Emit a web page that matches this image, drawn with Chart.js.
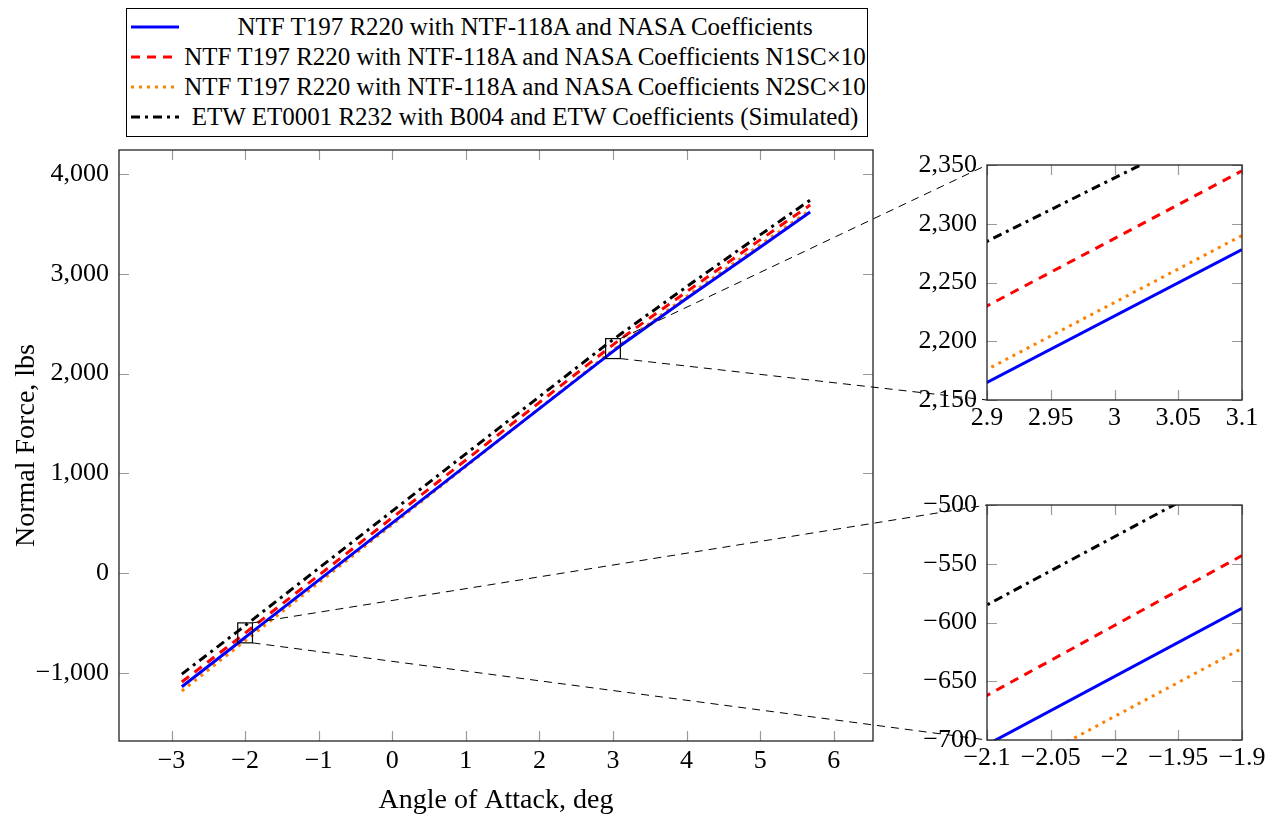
<!DOCTYPE html>
<html lang="en">
<head>
<meta charset="UTF-8" />
<title>Normal Force vs Angle of Attack</title>
<style>
  body { margin: 0; background: #fff; }
  .page { position: relative; width: 1280px; height: 817px; overflow: hidden; font-family: "Liberation Serif", "DejaVu Serif", serif; }
  .page canvas { position: absolute; left: 0; top: 0; }
  .legend { position: absolute; left: 126px; top: 8px; width: 740px; height: 127px; border: 1px solid #000; background: #fff; }
  .legend .row { position: absolute; left: 0; width: 100%; height: 30px; }
  .legend svg { position: absolute; left: 4px; top: 10px; }
  .legend span { position: absolute; left: 56px; width: 684px; top: 0; line-height: 30px; text-align: center; font-size: 25px; white-space: nowrap; color: #000; }
</style>
<script src="https://cdn.jsdelivr.net/npm/chart.js"></script>
</head>
<body>
<div class="page">
  <canvas id="main" width="1280" height="817"></canvas>
  <canvas id="links" width="1280" height="817"></canvas>
  <canvas id="zoomHigh" width="1280" height="817"></canvas>
  <canvas id="zoomLow" width="1280" height="817"></canvas>
  <div class="legend" id="legend"></div>
</div>
<script>
// angle of attack, deg (shared by every series)
const angle = [-2.86, -2.1, -1.9, 2.9, 3.1, 4.0, 5.0, 5.68];

// normal force, lbs
const ntfNasa   = [-1140, -704, -588, 2165, 2278, 2752, 3265, 3619];
const ntfN1SC   = [-1093, -662, -543, 2230, 2345, 2820, 3340, 3689];
const ntfN2SC   = [-1183, -738, -622, 2176, 2290, 2772, 3290, 3639];
const etwSim    = [-1013, -585, -469, 2285, 2393, 2870, 3390, 3739];

const seriesNames = [
  'NTF T197 R220 with NTF-118A and NASA Coefficients',
  'NTF T197 R220 with NTF-118A and NASA Coefficients N1SC\u00d710',
  'NTF T197 R220 with NTF-118A and NASA Coefficients N2SC\u00d710',
  'ETW ET0001 R232 with B004 and ETW Coefficients (Simulated)'
];
const seriesValues = [ntfNasa, ntfN1SC, ntfN2SC, etwSim];
const seriesColors = ['#0000ff', '#ff0000', '#ff8000', '#000000'];
const seriesDash = [[], [9, 7], [3, 5], [9, 5, 3, 5]];

// tick labels
const mainXTicks = [-3, -2, -1, 0, 1, 2, 3, 4, 5, 6];
const mainYTicks = [-1000, 0, 1000, 2000, 3000, 4000];
const highXTicks = [2.9, 2.95, 3, 3.05, 3.1];
const highYTicks = [2150, 2200, 2250, 2300, 2350];
const lowXTicks = [-2.1, -2.05, -2, -1.95, -1.9];
const lowYTicks = [-700, -650, -600, -550, -500];

const W = 1280, H = 817;
const FONT = '"Liberation Serif", "DejaVu Serif", serif';

function fmt(v) {
  const s = Math.abs(v).toLocaleString('en-US', { maximumFractionDigits: 2 });
  return (v < 0 ? '\u2212' : '') + s;
}

function makeDatasets() {
  return seriesValues.map((vals, i) => ({
    label: seriesNames[i],
    data: angle.map((a, k) => ({ x: a, y: vals[k] })),
    borderColor: seriesColors[i],
    borderWidth: 3,
    borderDash: seriesDash[i],
    pointRadius: 0,
    fill: false
  }));
}

// frame + inward ticks on all four sides, pgfplots style
const axisFrame = {
  id: 'axisFrame',
  afterDatasetsDraw(chart) {
    const { ctx, chartArea: a, scales: { x, y } } = chart;
    const L = 10;
    ctx.save();
    ctx.strokeStyle = '#9a9a9a';
    ctx.lineWidth = 1.2;
    ctx.beginPath();
    x.ticks.forEach(t => {
      const p = Math.round(x.getPixelForValue(t.value)) + 0.5;
      ctx.moveTo(p, a.bottom); ctx.lineTo(p, a.bottom - L);
      ctx.moveTo(p, a.top); ctx.lineTo(p, a.top + L);
    });
    y.ticks.forEach(t => {
      const p = Math.round(y.getPixelForValue(t.value)) + 0.5;
      ctx.moveTo(a.left, p); ctx.lineTo(a.left + L, p);
      ctx.moveTo(a.right, p); ctx.lineTo(a.right - L, p);
    });
    ctx.stroke();
    ctx.strokeStyle = '#222';
    ctx.lineWidth = 1.3;
    ctx.strokeRect(a.left, a.top, a.right - a.left, a.bottom - a.top);
    ctx.restore();
  }
};

// small boxes in the main plot marking the zoomed regions
const spyBoxes = {
  id: 'spyBoxes',
  afterDatasetsDraw(chart) {
    const { ctx, scales: { x, y } } = chart;
    ctx.save();
    ctx.strokeStyle = '#000';
    ctx.lineWidth = 1.2;
    [[highXTicks, highYTicks], [lowXTicks, lowYTicks]].forEach(([xt, yt]) => {
      const x0 = x.getPixelForValue(xt[0]), x1 = x.getPixelForValue(xt[xt.length - 1]);
      const y0 = y.getPixelForValue(yt[0]), y1 = y.getPixelForValue(yt[yt.length - 1]);
      ctx.strokeRect(x0, y1, x1 - x0, y0 - y1);
    });
    ctx.restore();
  }
};

function buildChart(id, box, xRange, yRange, xTicks, yTicks, o) {
  const tickFont = { family: FONT, size: 26 };
  const titleFont = { family: FONT, size: 28 };
  return new Chart(document.getElementById(id), {
    type: 'line',
    data: { datasets: makeDatasets() },
    options: {
      responsive: false,
      animation: false,
      events: [],
      layout: { padding: { left: box.left - o.yWidth, top: box.top, right: W - box.right, bottom: H - box.bottom - o.xHeight } },
      plugins: { legend: { display: false }, tooltip: { enabled: false } },
      elements: { line: { tension: 0, borderCapStyle: 'butt', borderJoinStyle: 'miter' } },
      scales: {
        x: {
          type: 'linear', min: xRange[0], max: xRange[1],
          grid: { display: false, drawTicks: false }, border: { display: false },
          afterBuildTicks: s => { s.ticks = xTicks.map(v => ({ value: v })); },
          afterFit: s => { s.height = o.xHeight; },
          ticks: { autoSkip: false, maxRotation: 0, minRotation: 0, padding: o.xPad, color: '#000', font: tickFont, callback: v => fmt(v) },
          title: o.xTitle ? { display: true, text: o.xTitle, color: '#000', font: titleFont, padding: { top: 0, bottom: 0 } } : { display: false }
        },
        y: {
          type: 'linear', min: yRange[0], max: yRange[1],
          grid: { display: false, drawTicks: false }, border: { display: false },
          afterBuildTicks: s => { s.ticks = yTicks.map(v => ({ value: v })); },
          afterFit: s => { s.width = o.yWidth; },
          ticks: { autoSkip: false, padding: o.yPad, color: '#000', font: tickFont, callback: v => fmt(v) },
          title: o.yTitle ? { display: true, text: o.yTitle, color: '#000', font: titleFont, padding: { top: 10, bottom: 0 } } : { display: false }
        }
      }
    },
    plugins: [axisFrame].concat(o.plugins || [])
  });
}

const main = buildChart('main', { left: 119, top: 150, right: 873, bottom: 741 },
  [-3.714, 6.534], [-1684, 4241], mainXTicks, mainYTicks,
  { yWidth: 119, xHeight: 76, xPad: 5, yPad: 10, xTitle: 'Angle of Attack, deg', yTitle: 'Normal Force, lbs', plugins: [spyBoxes] });

const zoomHigh = buildChart('zoomHigh', { left: 987, top: 165, right: 1242, bottom: 400 },
  [highXTicks[0], highXTicks[highXTicks.length - 1]], [highYTicks[0], highYTicks[highYTicks.length - 1]],
  highXTicks, highYTicks, { yWidth: 110, xHeight: 44, xPad: 3, yPad: 10 });

const zoomLow = buildChart('zoomLow', { left: 987, top: 505, right: 1242, bottom: 740 },
  [lowXTicks[0], lowXTicks[lowXTicks.length - 1]], [lowYTicks[0], lowYTicks[lowYTicks.length - 1]],
  lowXTicks, lowYTicks, { yWidth: 110, xHeight: 44, xPad: 3, yPad: 10 });

// dashed connector lines from each marked box to its magnified view
(function drawLinks() {
  const ctx = document.getElementById('links').getContext('2d');
  const x = main.scales.x, y = main.scales.y;
  ctx.save();
  ctx.strokeStyle = '#000';
  ctx.lineWidth = 1;
  ctx.setLineDash([8, 6]);
  [[highXTicks, highYTicks, zoomHigh], [lowXTicks, lowYTicks, zoomLow]].forEach(([xt, yt, inset]) => {
    const bx = x.getPixelForValue(xt[xt.length - 1]);
    const top = y.getPixelForValue(yt[yt.length - 1]);
    const bot = y.getPixelForValue(yt[0]);
    const a = inset.chartArea;
    ctx.beginPath();
    ctx.moveTo(bx, top); ctx.lineTo(a.left, a.top);
    ctx.stroke();
    ctx.beginPath();
    ctx.moveTo(bx, bot); ctx.lineTo(a.left, a.bottom);
    ctx.stroke();
  });
  ctx.restore();
})();

// legend
(function buildLegend() {
  const box = document.getElementById('legend');
  seriesNames.forEach((name, i) => {
    const row = document.createElement('div');
    row.className = 'row';
    row.style.top = (3 + i * 30) + 'px';
    const dash = seriesDash[i].length ? ' stroke-dasharray="' + seriesDash[i].join(' ') + '"' : '';
    row.innerHTML = '<svg width="48" height="10"><line x1="0" y1="5" x2="48" y2="5" stroke="' + seriesColors[i] +
      '" stroke-width="3"' + dash + '/></svg><span>' + name + '</span>';
    box.appendChild(row);
  });
})();
</script>
</body>
</html>
